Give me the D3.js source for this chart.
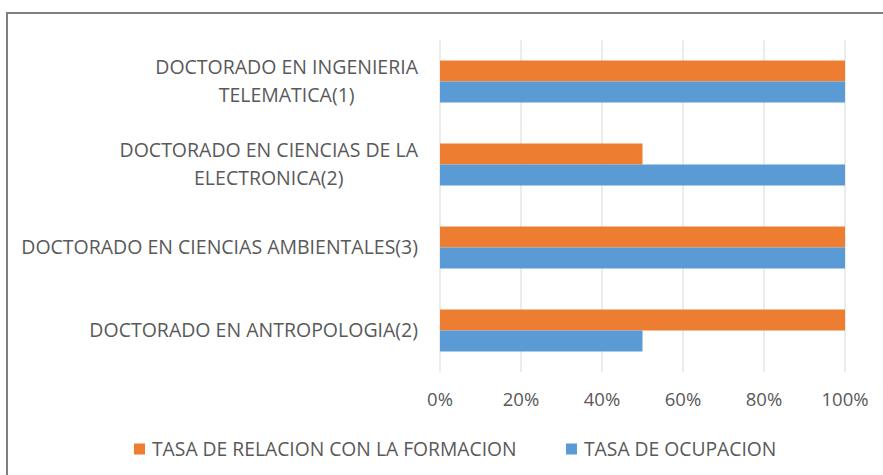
<!DOCTYPE html>
<html>
<head>
<meta charset="utf-8">
<script src="https://cdn.jsdelivr.net/npm/d3@7"></script>
<style>
  body { margin: 0; background: #fff; }
  svg { display: block; font-family: "Open Sans", sans-serif; }
</style>
</head>
<body>
<svg id="chart" width="883" height="475"></svg>
<script>
// data, top to bottom as in the chart
const programas = [
  ["DOCTORADO EN INGENIERIA", "TELEMATICA(1)"],
  ["DOCTORADO EN CIENCIAS DE LA", "ELECTRONICA(2)"],
  ["DOCTORADO EN CIENCIAS AMBIENTALES(3)"],
  ["DOCTORADO EN ANTROPOLOGIA(2)"]
]
const series = ["TASA DE RELACION CON LA FORMACION", "TASA DE OCUPACION"]
const tasaRelacion = [1, 0.5, 1, 1]
const tasaOcupacion = [1, 1, 1, 0.5]
const ticks = [0, 0.2, 0.4, 0.6, 0.8, 1]

const colors = { "TASA DE RELACION CON LA FORMACION": "#ED7D31", "TASA DE OCUPACION": "#5B9BD5" }
const textColor = "#595959"

const svg = d3.select("#chart")

// chart border (only left and top visible in the crop)
svg.append("rect")
  .attr("x", 7).attr("y", 13)
  .attr("width", 900).attr("height", 500)
  .attr("fill", "none")
  .attr("stroke", "#7f7f7f")
  .attr("stroke-width", 2)

const plot = { left: 440, right: 845, top: 40, bottom: 372 }

const x = d3.scaleLinear().domain([0, 1]).range([plot.left, plot.right])
const y = d3.scaleBand()
  .domain(d3.range(programas.length))
  .range([plot.top, plot.bottom])
  .paddingInner(0.494)
  .paddingOuter(0.247)
const ySub = d3.scaleBand().domain(series).range([0, y.bandwidth()])

// gridlines
svg.append("g")
  .selectAll("line")
  .data(ticks)
  .join("line")
  .attr("x1", d => x(d)).attr("x2", d => x(d))
  .attr("y1", plot.top).attr("y2", plot.bottom)
  .attr("stroke", "#d9d9d9")
  .attr("stroke-width", 1)

// x axis labels
svg.append("g")
  .selectAll("text")
  .data(ticks)
  .join("text")
  .attr("x", d => x(d))
  .attr("y", 400)
  .attr("dy", "0.35em")
  .attr("text-anchor", "middle")
  .attr("font-size", 18.5)
  .attr("fill", textColor)
  .text(d3.format(".0%"))

// bars
const rows = programas.map((p, i) => ({ i, values: [tasaRelacion[i], tasaOcupacion[i]] }))
const groups = svg.append("g")
  .selectAll("g")
  .data(rows)
  .join("g")
  .attr("transform", d => `translate(0,${y(d.i)})`)

groups.selectAll("rect")
  .data(d => d.values.map((v, k) => ({ s: series[k], v })))
  .join("rect")
  .attr("x", x(0))
  .attr("y", d => ySub(d.s))
  .attr("width", d => x(d.v) - x(0))
  .attr("height", ySub.bandwidth())
  .attr("fill", d => colors[d.s])

// category labels
const labels = svg.append("g")
  .selectAll("text")
  .data(programas)
  .join("text")
  .attr("text-anchor", "end")
  .attr("font-size", 19.5)
  .attr("fill", textColor)
  .attr("transform", (d, i) => `translate(418,${y(i) + y.bandwidth() / 2})`)

labels.selectAll("tspan")
  .data(d => d.map((line, k) => ({ line, k, n: d.length })))
  .join("tspan")
  .attr("x", 0)
  .attr("y", d => (d.k - (d.n - 1) / 2) * 28)
  .attr("dy", "0.35em")
  .text(d => d.line)

// second lines of wrapped labels are centred under the first line in the original
labels.each(function () {
  const t = d3.select(this).selectAll("tspan").nodes()
  if (t.length > 1) {
    const w0 = t[0].getComputedTextLength()
    const w1 = t[1].getComputedTextLength()
    d3.select(t[1]).attr("x", -(w0 - w1) / 2)
  }
})

// legend
const legend = svg.append("g")
  .selectAll("g")
  .data(series)
  .join("g")
  .attr("transform", (d, i) => `translate(${[134, 566][i]},449)`)

legend.append("rect")
  .attr("x", 0).attr("y", -5.5)
  .attr("width", 11).attr("height", 11)
  .attr("fill", d => colors[d])

legend.append("text")
  .attr("x", 18)
  .attr("dy", "0.35em")
  .attr("font-size", 19.3)
  .attr("fill", textColor)
  .text(d => d)
</script>
</body>
</html>
